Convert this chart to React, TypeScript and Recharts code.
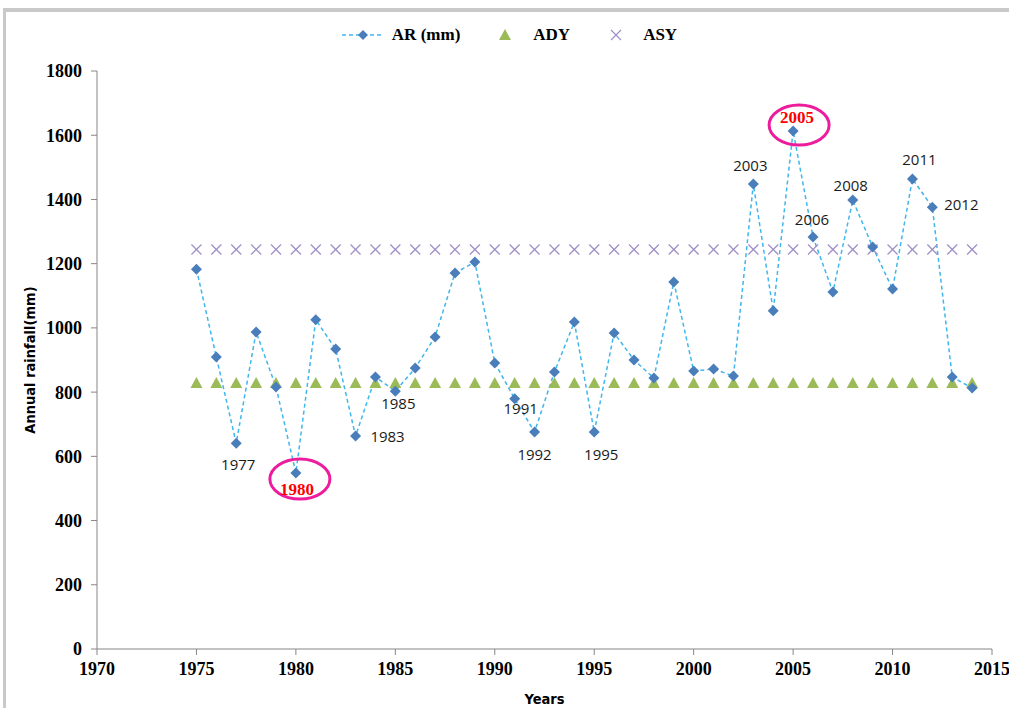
import { LineChart, Line, XAxis, YAxis, Legend, LabelList } from "recharts";

const years = [
  1975, 1976, 1977, 1978, 1979, 1980, 1981, 1982, 1983, 1984,
  1985, 1986, 1987, 1988, 1989, 1990, 1991, 1992, 1993, 1994,
  1995, 1996, 1997, 1998, 1999, 2000, 2001, 2002, 2003, 2004,
  2005, 2006, 2007, 2008, 2009, 2010, 2011, 2012, 2013, 2014,
];
const arValues = [
  1183, 909, 641, 987, 816, 548, 1025, 934, 663, 847,
  803, 875, 972, 1171, 1205, 891, 779, 676, 863, 1018,
  676, 984, 900, 844, 1143, 866, 872, 850, 1448, 1053,
  1613, 1283, 1112, 1398, 1252, 1121, 1464, 1376, 847, 813,
];
// long-term averages: dry-year and surplus-year thresholds
const adyValue = 828;
const asyValue = 1244;

const xTicks = [1970, 1975, 1980, 1985, 1990, 1995, 2000, 2005, 2010, 2015];
const yTicks = [0, 200, 400, 600, 800, 1000, 1200, 1400, 1600, 1800];

const labelledYears = [1977, 1983, 1985, 1991, 1992, 1995, 2003, 2006, 2008, 2011, 2012];
const highlightYears = [1980, 2005];

const data = years.map((year, i) => ({
  year,
  ar: arValues[i],
  ady: adyValue,
  asy: asyValue,
}));

// label offsets from the point (text centre)
const labelOffset: Record<number, [number, number]> = {
  1977: [2, 21],
  1983: [32, 0],
  1985: [3, 12],
  1991: [6, 9],
  1992: [0, 22],
  1995: [7, 22],
  2003: [-3, -19],
  2006: [-1, -18],
  2008: [-2, -15],
  2011: [7, -20],
  2012: [29, -3],
};
const highlightOffset: Record<number, { tx: number; ty: number; ex: number; ey: number }> = {
  1980: { tx: 1, ty: 16, ex: 4, ey: 6 },
  2005: { tx: 4, ty: -14, ex: 6, ey: -6 },
};

const axisColor = "#868686";
const serif = "'Liberation Serif', 'Times New Roman', serif";
const condensed = "'DejaVu Sans Condensed', 'DejaVu Sans', sans-serif";

const Diamond = (p: any) => {
  const { cx, cy, index } = p;
  if (cx == null || cy == null) return <g key={`d${index}`} />;
  const r = 5.5;
  return (
    <path
      key={`d${index}`}
      d={`M${cx},${cy - r}L${cx + r},${cy}L${cx},${cy + r}L${cx - r},${cy}Z`}
      fill="#4a7ebb"
    />
  );
};

const Triangle = (p: any) => {
  const { cx, cy, index } = p;
  if (cx == null || cy == null) return <g key={`t${index}`} />;
  return (
    <path
      key={`t${index}`}
      d={`M${cx},${cy - 6}L${cx + 6},${cy + 5}L${cx - 6},${cy + 5}Z`}
      fill="#9bbb59"
    />
  );
};

const Cross = (p: any) => {
  const { cx, cy, index } = p;
  if (cx == null || cy == null) return <g key={`c${index}`} />;
  const r = 5;
  return (
    <g key={`c${index}`} stroke="#a090c8" strokeWidth={1.3}>
      <line x1={cx - r} y1={cy - r} x2={cx + r} y2={cy + r} />
      <line x1={cx - r} y1={cy + r} x2={cx + r} y2={cy - r} />
    </g>
  );
};

const YearLabel = (p: any) => {
  const { x, y, index } = p;
  const year = years[index];
  if (x == null || y == null) return null;
  if (highlightYears.includes(year)) {
    const o = highlightOffset[year];
    return (
      <g>
        <ellipse cx={x + o.ex} cy={y + o.ey} rx={30} ry={20} fill="none" stroke="#ec1c9c" strokeWidth={3} />
        <text
          x={x + o.tx}
          y={y + o.ty}
          textAnchor="middle"
          dominantBaseline="central"
          fill="#ff0000"
          fontFamily={serif}
          fontWeight="bold"
          fontSize={17}
        >
          {year}
        </text>
      </g>
    );
  }
  if (labelledYears.includes(year)) {
    const [dx, dy] = labelOffset[year];
    return (
      <text
        x={x + dx}
        y={y + dy}
        textAnchor="middle"
        dominantBaseline="central"
        fill="#1a1a1a"
        fontFamily="'Open Sans', 'Liberation Sans', sans-serif"
        fontSize={15}
      >
        {year}
      </text>
    );
  }
  return null;
};

const LegendContent = () => (
  <div
    style={{
      display: "flex",
      justifyContent: "center",
      alignItems: "center",
      fontFamily: serif,
      fontWeight: "bold",
      fontSize: 17,
      color: "#000",
      paddingLeft: 9,
    }}
  >
    <svg width={44} height={14} style={{ marginRight: 7 }}>
      <line x1={1} y1={7} x2={43} y2={7} stroke="#3fb6ec" strokeWidth={1.5} strokeDasharray="4 3" />
      <path d="M22,2L27,7L22,12L17,7Z" fill="#4a7ebb" />
    </svg>
    <span style={{ marginRight: 38 }}>AR (mm)</span>
    <svg width={14} height={14} style={{ marginRight: 21 }}>
      <path d="M7,1L13,12L1,12Z" fill="#9bbb59" />
    </svg>
    <span style={{ marginRight: 40 }}>ADY</span>
    <svg width={12} height={14} style={{ marginRight: 21 }}>
      <g stroke="#a090c8" strokeWidth={1.3}>
        <line x1={1} y1={2} x2={11} y2={12} />
        <line x1={1} y1={12} x2={11} y2={2} />
      </g>
    </svg>
    <span>ASY</span>
  </div>
);

export default function App() {
  return (
    <div
      style={{
        position: "fixed",
        left: 0,
        top: 0,
        width: 1009,
        height: 708,
        background: "#fff",
      }}
    >
      <div
        style={{
          position: "absolute",
          left: 3,
          top: 8,
          right: 0,
          bottom: 0,
          borderTop: "4px solid #c9c9c9",
          borderLeft: "3px solid #c9c9c9",
        }}
      />
      <div style={{ position: "absolute", left: 0, top: 0 }}>
        <LineChart
          width={1009}
          height={708}
          data={data}
          margin={{ top: 71, right: 17, bottom: 0, left: 0 }}
        >
          <XAxis
            dataKey="year"
            type="number"
            domain={[1970, 2015]}
            ticks={xTicks}
            interval={0}
            height={59}
            stroke={axisColor}
            tickSize={6}
            tickMargin={7}
            tick={{ fill: "#000", fontFamily: serif, fontWeight: "bold", fontSize: 18 }}
            label={{
              value: "Years",
              position: "insideBottom",
              offset: 4,
              fill: "#000",
              fontFamily: condensed,
              fontWeight: "bold",
              fontSize: 14.5,
            }}
          />
          <YAxis
            domain={[0, 1800]}
            ticks={yTicks}
            interval={0}
            width={97}
            stroke={axisColor}
            tickSize={6}
            tickMargin={9}
            tick={{ fill: "#000", fontFamily: serif, fontWeight: "bold", fontSize: 18 }}
            label={{
              value: "Annual rainfall(mm)",
              angle: -90,
              position: "insideLeft",
              offset: 30,
              fill: "#000",
              fontFamily: condensed,
              fontWeight: "bold",
              fontSize: 14.5,
              style: { textAnchor: "middle" },
            }}
          />
          <Legend
            verticalAlign="top"
            align="center"
            content={<LegendContent />}
            wrapperStyle={{ top: 25, left: 0, width: 1009, height: 0, overflow: "visible" }}
          />
          <Line
            dataKey="asy"
            name="ASY"
            stroke="none"
            dot={Cross}
            activeDot={false}
            isAnimationActive={false}
          />
          <Line
            dataKey="ady"
            name="ADY"
            stroke="none"
            dot={Triangle}
            activeDot={false}
            isAnimationActive={false}
          />
          <Line
            dataKey="ar"
            name="AR (mm)"
            stroke="#3fb6ec"
            strokeWidth={1.5}
            strokeDasharray="4 3"
            dot={Diamond}
            activeDot={false}
            isAnimationActive={false}
          >
            <LabelList dataKey="ar" content={YearLabel} />
          </Line>
        </LineChart>
      </div>
    </div>
  );
}
